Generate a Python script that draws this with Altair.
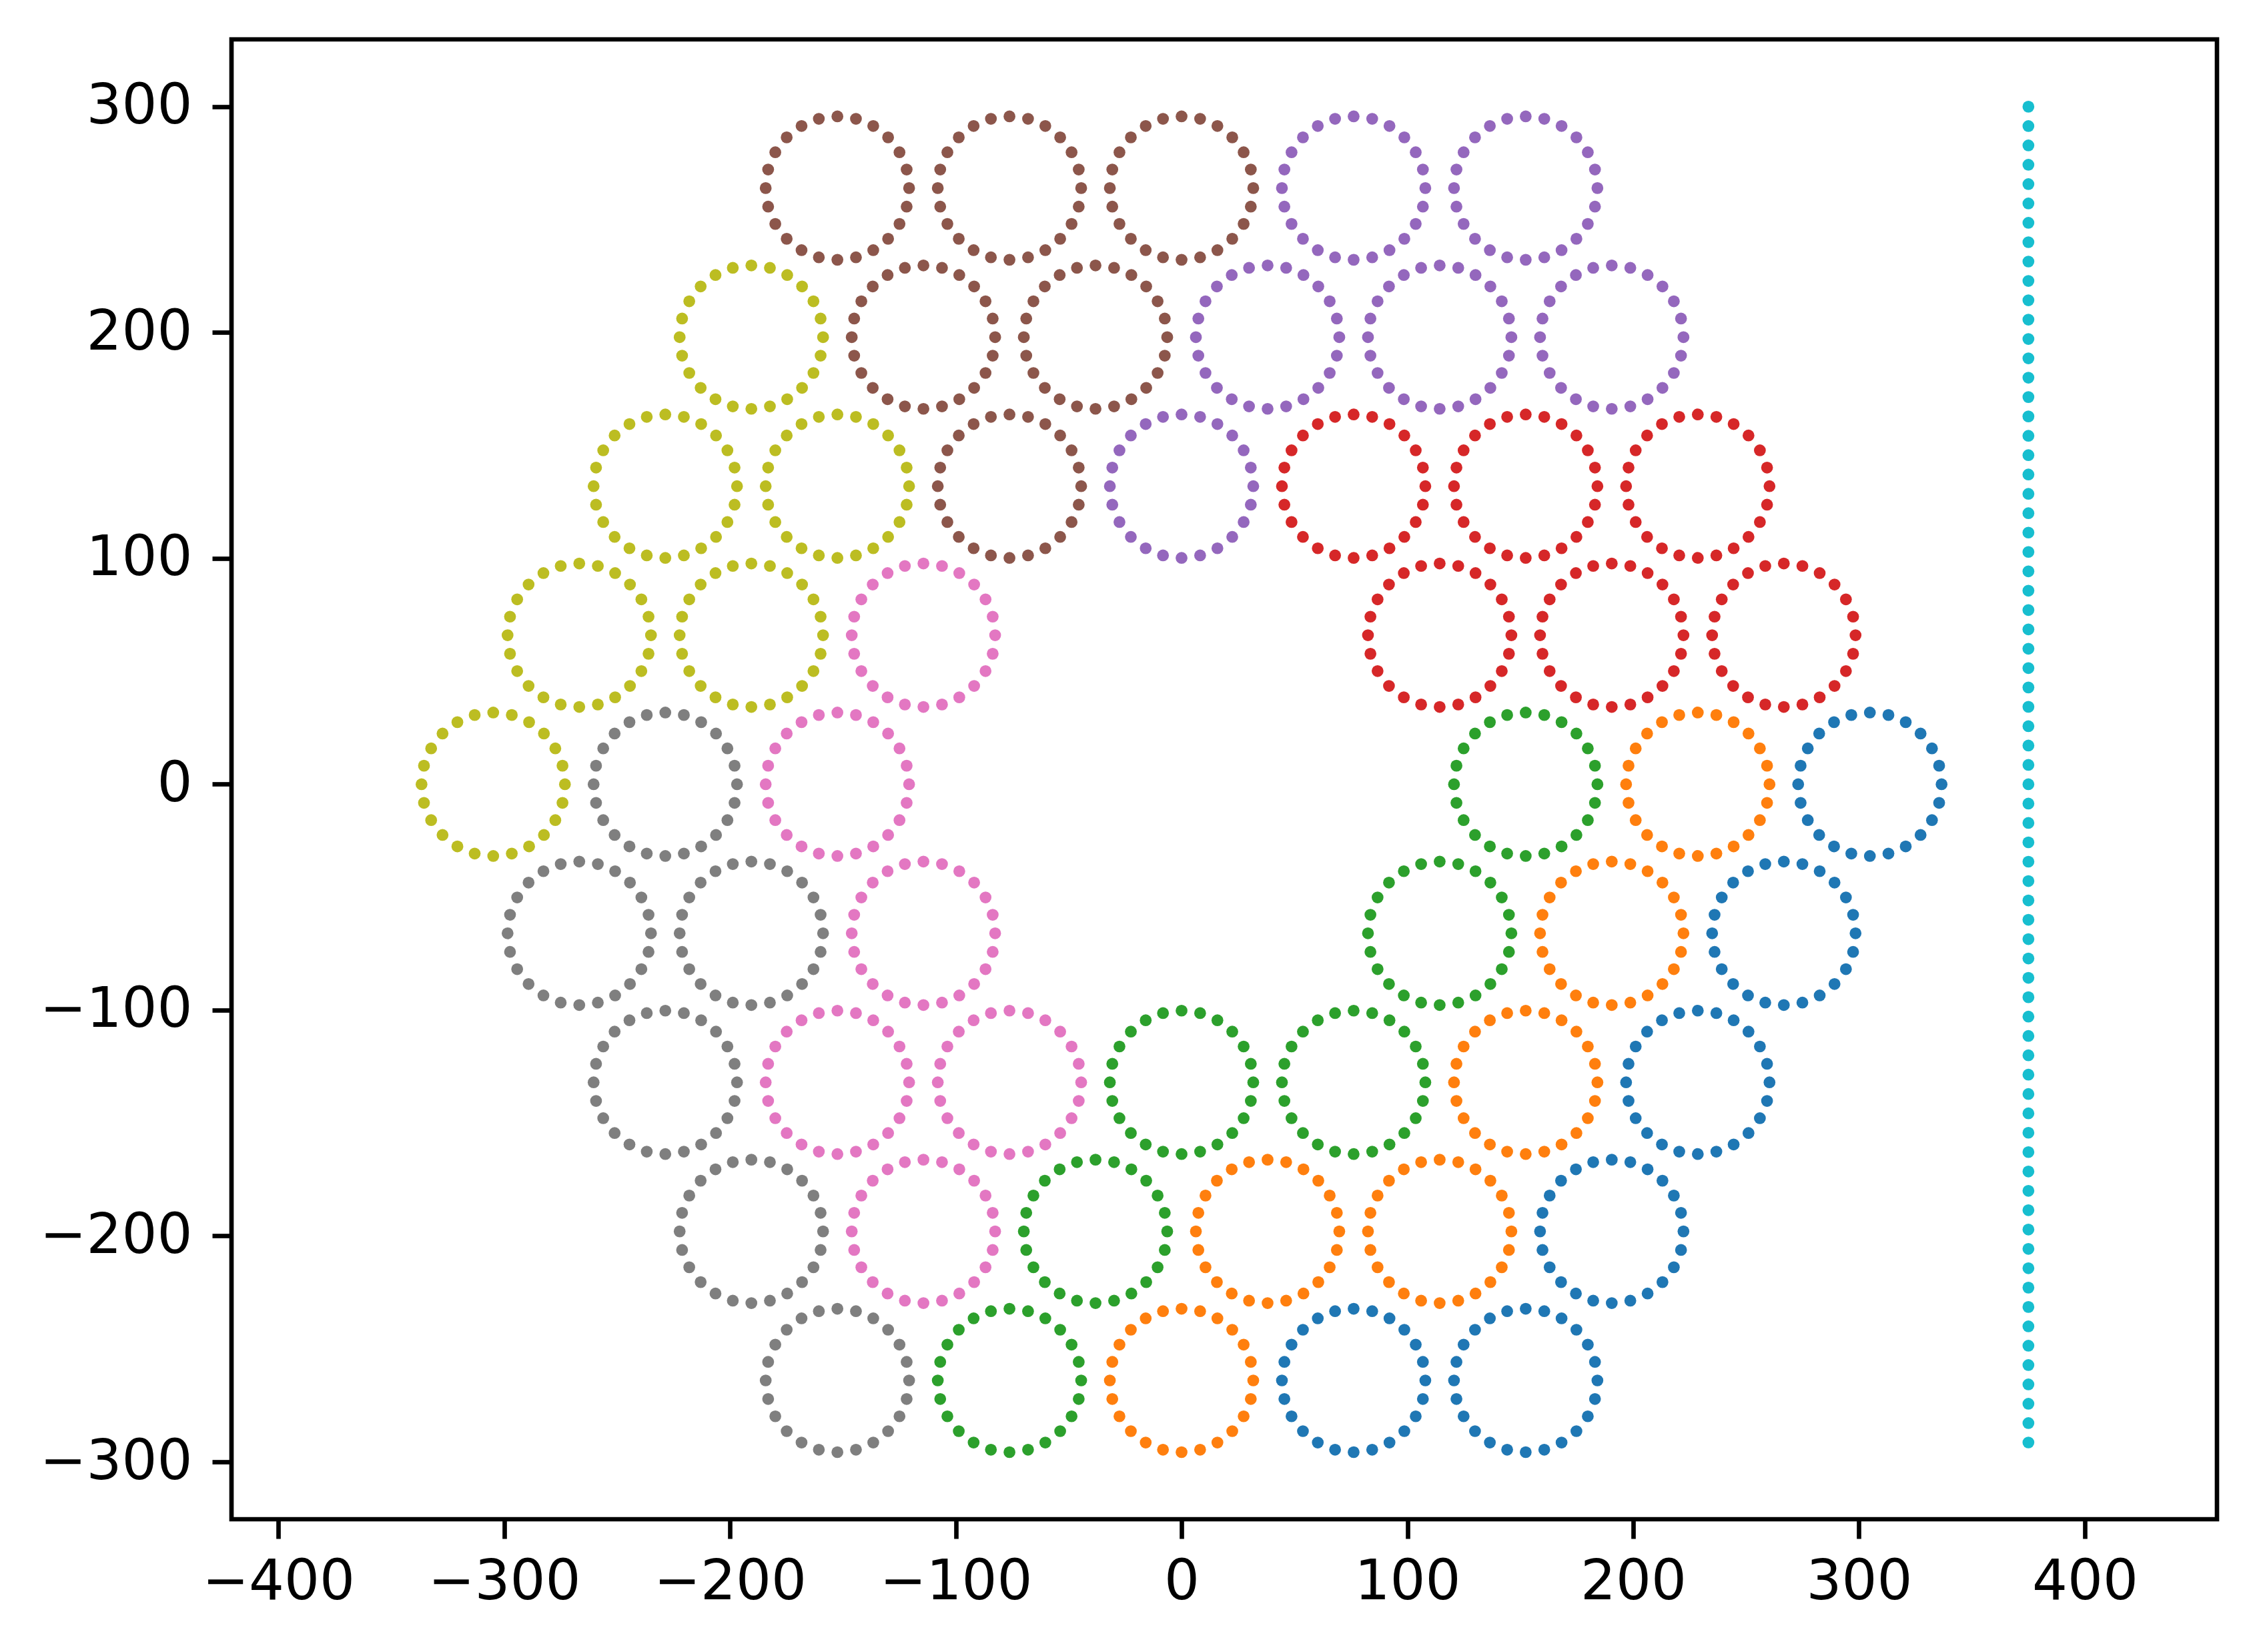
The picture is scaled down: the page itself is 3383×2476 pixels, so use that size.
import math
import altair as alt
import pandas as pd

# ---- data ----
GROUPS = ["blue", "orange", "green", "red", "purple", "brown", "pink", "gray", "olive", "cyan"]
COLORS = ["#1f77b4", "#ff7f0e", "#2ca02c", "#d62728", "#9467bd",
          "#8c564b", "#e377c2", "#7f7f7f", "#bcbd22", "#17becf"]

# circle centres (hexagonal arrangement), one group of six per colour
center_x = [
    304.8, 266.7, 228.6, 190.5, 152.4, 76.2,          # blue
    228.6, 190.5, 152.4, 114.3, 38.1, 0.0,            # orange
    152.4, 114.3, 76.2, 0.0, -38.1, -76.2,            # green
    76.2, 152.4, 228.6, 114.3, 190.5, 266.7,          # red
    76.2, 152.4, 38.1, 114.3, 190.5, 0.0,             # purple
    -152.4, -76.2, 0.0, -114.3, -38.1, -76.2,         # brown
    -114.3, -152.4, -114.3, -152.4, -76.2, -114.3,    # pink
    -228.6, -266.7, -190.5, -228.6, -190.5, -152.4,   # gray
    -190.5, -228.6, -152.4, -266.7, -190.5, -304.8,   # olive
]
center_y = [
    0.0, -65.99, -131.98, -197.97, -263.96, -263.96,
    0.0, -65.99, -131.98, -197.97, -197.97, -263.96,
    0.0, -65.99, -131.98, -131.98, -197.97, -263.96,
    131.98, 131.98, 131.98, 65.99, 65.99, 65.99,
    263.96, 263.96, 197.97, 197.97, 197.97, 131.98,
    263.96, 263.96, 263.96, 197.97, 197.97, 131.98,
    65.99, 0.0, -65.99, -131.98, -131.98, -197.97,
    0.0, -65.99, -65.99, -131.98, -197.97, -263.96,
    197.97, 131.98, 131.98, 65.99, 65.99, 0.0,
]
center_group = [g for g in GROUPS[:9] for _ in range(6)]

RADIUS = 31.75
DOT_ANGLES = [15 * k for k in range(24)]  # 24 dots around each ring

# vertical column of cyan dots
CYAN_X = 375.0
CYAN_TOP = 300.0
CYAN_STEP = 600.0 / 70
CYAN_COUNT = 70

X_TICKS = [-400, -300, -200, -100, 0, 100, 200, 300, 400]
Y_TICKS = [-300, -200, -100, 0, 100, 200, 300]

rows = []
for cx, cy, g in zip(center_x, center_y, center_group):
    for a in DOT_ANGLES:
        t = math.radians(a)
        rows.append({"x": cx + RADIUS * math.cos(t), "y": cy + RADIUS * math.sin(t), "g": g})
for k in range(CYAN_COUNT):
    rows.append({"x": CYAN_X, "y": CYAN_TOP - k * CYAN_STEP, "g": "cyan"})
df = pd.DataFrame(rows)

axis_common = dict(
    title=None, grid=False, domain=False,
    labelFont="DejaVu Sans", labelFontSize=83.3, labelColor="black",
    tickColor="black", tickWidth=6.67, tickSize=29,
    labelFlush=False, labelOverlap=False, labelLimit=0,
)

chart = alt.Chart(df).mark_circle(size=314, opacity=1, strokeWidth=0).encode(
    x=alt.X("x:Q",
            scale=alt.Scale(domain=[-420.7, 458.5], nice=False, zero=False),
            axis=alt.Axis(values=X_TICKS, labelPadding=24, **axis_common)),
    y=alt.Y("y:Q",
            scale=alt.Scale(domain=[-325.4, 329.8], nice=False, zero=False),
            axis=alt.Axis(values=Y_TICKS, labelPadding=30, **axis_common)),
    color=alt.Color("g:N", scale=alt.Scale(domain=GROUPS, range=COLORS), legend=None),
).properties(
    width=2976,
    height=2218,
    background="white",
    autosize=alt.AutoSizeParams(type="none"),
    padding={"left": 339, "top": 51, "right": 40, "bottom": 150},
).configure_view(
    stroke="black", strokeWidth=6.67, fill="white"
)

chart.save("out.html", embed_options={"renderer": "svg", "actions": False})
